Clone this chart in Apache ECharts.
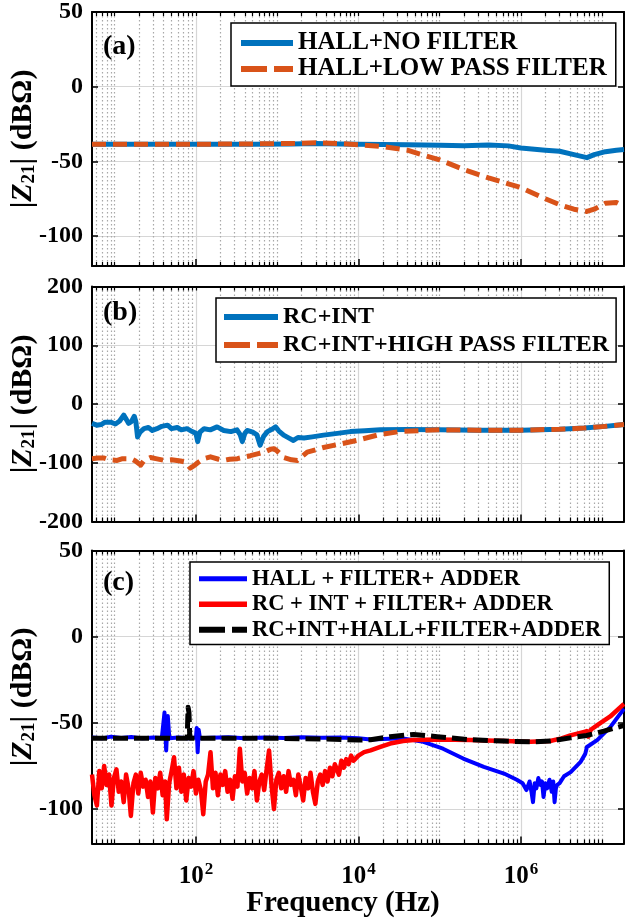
<!DOCTYPE html>
<html>
<head>
<meta charset="utf-8">
<script src="https://cdn.jsdelivr.net/npm/echarts@6/dist/echarts.min.js"></script>
<style>
html, body { margin: 0; padding: 0; background: #fff; }
#app { width: 625px; height: 920px; }
</style>
</head>
<body>
<div id="app"></div>
<script>
// x range of all three panels (Hz)
const xMin = 5.25, xMax = 1.86e7;
const xMajor = [1e2, 1e4, 1e6];

// (a) HALL
const aHz = [5.25, 20, 100, 500, 1500, 3000, 6000, 10000, 20000, 40000, 100000, 200000, 400000, 700000,
    1e6, 2e6, 3e6, 4.5e6, 6.5e6, 8e6, 1.1e7, 1.5e7, 1.86e7];
const aNoFilter = [-38.5, -38.5, -38.5, -38.5, -38.3, -38, -38.3, -38.5, -38.6, -38.8, -39.2, -39.5, -39, -39.6,
    -41, -42.5, -43.2, -45.5, -47.5, -45.5, -43.5, -42.5, -42];
const aLowPass = [-38.5, -38.5, -38.5, -38.3, -38, -37.5, -38, -38.8, -40, -42.5, -49, -55.5, -61, -65,
    -67.5, -75, -79, -82, -83.5, -82, -78, -77.5, -80];

// (b) RC + INT
const bIntHz = [5.25, 6.0, 6.8, 7.6, 8.9, 10.2, 11.5, 12.9, 14.0, 14.8, 16.0, 17.4, 18.2, 19.1, 20.5, 22.9, 26, 29,
    33.1, 38, 44.7, 50, 58.9, 66, 77.6, 90, 100, 105, 112, 126, 150, 182, 220, 269, 320, 350, 372, 400, 427, 500,
    560, 617, 680, 759, 860, 955, 1050, 1202, 1400, 1585, 1800, 2138, 2700, 3715, 5500, 7943, 12000, 18620,
    40000, 1e5, 3e5, 1e6, 3e6, 6e6, 1e7, 1.86e7];
const bInt = [-33, -36, -35, -31, -31, -34, -29, -19, -27, -33, -30, -21, -30, -56, -48, -42, -40, -45,
    -42, -38, -36, -42, -40, -44, -42, -47, -50, -64, -48, -42, -44, -39, -45, -47, -44, -52, -64, -50, -45, -48,
    -52, -70, -55, -47, -43, -39, -46, -53, -58, -62, -57, -58, -56, -53, -50, -47, -45.5, -44,
    -43.5, -44, -44.5, -44.5, -43, -41, -38.5, -35];
const bHpfHz = [5.25, 6.2, 7.4, 8.5, 10.7, 12.5, 15.8, 18, 20.9, 23, 27.5, 32, 40.7, 50, 64.6, 75, 85, 95, 105,
    125, 151, 190, 219, 260, 324, 400, 468, 570, 692, 830, 912, 1000, 1202, 1500, 1778, 2000, 2344, 3715, 6026,
    9550, 17000, 31600, 63000, 1e5, 3e5, 1e6, 3e6, 6e6, 1e7, 1.86e7];
const bHpf = [-93, -92, -92, -95, -96, -93, -93, -97, -104, -96, -91, -93, -96, -95, -97, -99, -109, -105, -100,
    -93, -90, -94, -96, -94, -93, -90, -88, -85, -82, -77, -76, -80, -91, -95, -96, -90, -82, -74, -68,
    -62, -53, -47, -45, -44, -44.5, -44.5, -43, -41, -38.5, -35];

// (c) with adder
const cHallHz = [5.25, 7, 9, 12, 16, 22, 30, 38, 41, 43, 45, 47, 60, 80, 100, 102, 105, 108, 112, 150, 250, 400,
    700, 1200, 2000, 3500, 6000, 1e4, 1.41e4, 3.5e4, 6.3e4, 1.1e5, 1.95e5, 3.5e5, 6.2e5, 8.9e5, 1.05e6, 1.17e6, 1.28e6,
    1.35e6, 1.41e6, 1.48e6, 1.55e6, 1.64e6, 1.74e6, 1.82e6, 1.9e6, 2.0e6, 2.1e6, 2.25e6, 2.4e6, 2.5e6, 2.6e6, 2.7e6,
    2.8e6, 3.0e6, 3.4e6, 4.1e6, 5.4e6, 6.2e6, 6.5e6, 8.7e6, 1.26e7, 1.86e7];
const cHall = [-58.5, -59, -58, -58.8, -58.2, -59, -58.5, -58.8, -44, -66, -46, -59, -58.5, -59, -58.5, -53, -67, -54,
    -59, -58.6, -58.3, -59, -58.5, -58.8, -58.4, -58.6, -58.5, -59, -59.6, -59, -61, -65, -70.7, -75.5, -79.4, -83,
    -85, -89, -84, -90, -96, -85, -88, -82, -86, -84, -93, -85, -88, -83, -90, -84, -96, -88,
    -86, -85, -81, -78.6, -72.8, -68, -64, -60, -52.5, -41.8];
const cRcHz = [5.25, 5.62, 6.03, 6.46, 6.92, 7.41, 7.94, 8.51, 9.12, 9.77, 10.5, 11.2, 12.0, 12.9, 13.8, 14.8, 15.8,
    17.0, 18.2, 19.5, 20.9, 22.4, 24.0, 25.7, 27.5, 29.5, 31.6, 33.9, 36.3, 38.9, 41.7,
    43.7, 46.8, 50.1, 53.7, 57.5, 61.7, 66.1, 70.8, 75.9, 81.3, 87.1, 93.3,
    100, 107, 115, 123, 132, 141, 151, 162, 174, 186, 200, 214, 229, 245, 263, 282, 302, 324, 347, 372,
    398, 427, 457, 490, 525, 562, 603, 646, 692, 741, 794, 851, 912, 977,
    1047, 1122, 1202, 1288, 1380, 1479, 1585, 1698, 1820, 1950, 2089, 2239, 2399, 2570, 2754, 2951, 3162, 3388,
    3631, 3890, 4169, 4467, 4786, 5129,
    5754, 6166, 6607, 7079, 7586, 8128, 8710, 10000, 11749, 14125, 18621, 24547, 35481, 47863, 93325, 239883,
    616595, 1318257, 2290868, 3162278, 4073803, 6025596, 6456542, 6760830, 7244360, 8912509, 12589254, 1.86e7];
const cRc = [-80, -92, -98, -78, -88, -75, -86, -80, -98, -82, -77, -90, -84, -96, -80, -88, -104,
    -85, -80, -91, -79, -87, -83, -93, -84, -102, -82, -88, -79, -92, -84,
    -106, -85, -78, -70, -88, -76, -90, -80, -95, -82, -87, -78,
    -91, -83, -89, -103, -84, -80, -67, -88, -79, -92, -80, -86, -78, -90, -83, -94, -81, -87, -65, -84,
    -79, -91, -82, -88, -78, -95, -84, -80, -89, -77, -66, -86, -100, -83,
    -79, -88, -81, -90, -78, -86, -83, -92, -80, -87, -95, -82, -88, -79, -90, -97, -84, -80,
    -86, -78, -84, -76, -81, -74,
    -80, -72, -76, -71, -74, -69, -72, -69, -67, -66, -64, -62, -60.5, -60, -59.6, -60,
    -60.5, -61, -60.5, -59, -57.3, -55.2, -54.8, -58, -54, -51, -46.3, -39];
const cAllHz = [5.25, 20, 70, 78, 80, 82, 84, 200, 1000, 5000, 1e4, 1.41e4, 2.45e4, 4.8e4, 9.3e4, 2.4e5, 6.2e5,
    1.32e6, 2.29e6, 4.07e6, 6.46e6, 1.05e7, 1.86e7];
const cAll = [-59, -59, -59, -59, -41, -44, -59, -59, -59, -59.5, -60, -59.8, -58, -56.7, -58, -59.8, -60.6,
    -61, -60.6, -58.7, -57.3, -54.8, -51.5];

// minor decade positions 2..9 x 10^n (grid only)
const xMinor = [];
for (let e = 0; e <= 7; e++) {
    for (let k = 1; k <= 9; k++) {
        const v = k * Math.pow(10, e);
        if (v >= xMin && v <= xMax && xMajor.indexOf(v) < 0) xMinor.push(v);
    }
}

const FONT = 'Liberation Serif';
const W = 'bold';

const panels = [
    {top: 12, height: 254, yMin: -120, yMax: 50, yTicks: [-100, -50, 0, 50], tag: '(a)', tagTop: 32,
        legend: {left: 231, top: 23, padding: [7, 9, 4, 7], itemWidth: 52, fontSize: 25, lineHeight: 26}},
    {top: 286.5, height: 235, yMin: -200, yMax: 200, yTicks: [-200, -100, 0, 100, 200], tag: '(b)', tagTop: 298,
        legend: {left: 216, top: 298, padding: [5, 7, 3, 5], itemWidth: 54, fontSize: 24, lineHeight: 28}},
    {top: 550.5, height: 293, yMin: -120, yMax: 50, yTicks: [-100, -50, 0, 50], tag: '(c)', tagTop: 568,
        legend: {left: 190, top: 562, padding: [4, 8, 2, 6], itemWidth: 48, fontSize: 22.5, lineHeight: 25.5}}
];

const seriesDefs = [
    [
        {name: 'HALL+NO FILTER', hz: aHz, val: aNoFilter, color: '#0072BD', width: 5},
        {name: 'HALL+LOW PASS FILTER', hz: aHz, val: aLowPass, color: '#D95319', width: 5, dash: [14, 7]}
    ],
    [
        {name: 'RC+INT', hz: bIntHz, val: bInt, color: '#0072BD', width: 5},
        {name: 'RC+INT+HIGH PASS FILTER', hz: bHpfHz, val: bHpf, color: '#D95319', width: 5, dash: [14, 7]}
    ],
    [
        {name: 'HALL + FILTER+ ADDER', hz: cHallHz, val: cHall, color: '#0000FF', width: 4},
        {name: 'RC + INT + FILTER+ ADDER', hz: cRcHz, val: cRc, color: '#FF0000', width: 4.5},
        {name: 'RC+INT+HALL+FILTER+ADDER', hz: cAllHz, val: cAll, color: '#000000', width: 5, dash: [15, 6]}
    ]
];

const grid = [], xAxis = [], yAxis = [], legend = [], title = [], series = [];
const border = {color: '#000', width: 2};

panels.forEach((p, i) => {
    const last = i === panels.length - 1;
    grid.push({left: 92, width: 532, top: p.top, height: p.height, containLabel: false, outerBoundsMode: 'none'});

    // bottom axis: decade ticks, labels, solid grid
    xAxis.push({
        type: 'log', gridIndex: i, min: xMin, max: xMax, position: 'bottom',
        axisLine: {show: true, onZero: false, lineStyle: border},
        axisTick: {show: true, inside: true, length: 7, customValues: xMajor, lineStyle: {color: '#000', width: 1.5}},
        axisLabel: {
            show: last, customValues: xMajor, margin: 18,
            formatter: v => '{b|10}{s|' + Math.round(Math.log10(v)) + '}',
            rich: {
                b: {fontFamily: FONT, fontWeight: W, fontSize: 25, color: '#000', lineHeight: 30},
                s: {fontFamily: FONT, fontWeight: W, fontSize: 17, color: '#000', lineHeight: 16, verticalAlign: 'top', padding: [0, 0, 0, 1]}
            }
        },
        splitLine: {show: true, lineStyle: {color: '#d6d6d6', width: 1.2}},
        name: last ? 'Frequency (Hz)' : '', nameLocation: 'middle', nameGap: 46, nameMoveOverlap: false,
        nameTextStyle: {fontFamily: FONT, fontWeight: W, fontSize: 29, color: '#000', padding: [0, 30, 0, 0]}
    });
    // bottom axis: minor ticks, dotted grid
    xAxis.push({
        type: 'log', gridIndex: i, min: xMin, max: xMax, position: 'bottom',
        axisLine: {show: false, onZero: false},
        axisTick: {show: true, inside: true, length: 4, customValues: xMinor, lineStyle: {color: '#000', width: 1.2}},
        axisLabel: {show: false},
        splitLine: {show: true, lineStyle: {color: '#a8a8a8', width: 1.2, type: [1.5, 2.5]}}
    });
    // top border
    xAxis.push({
        type: 'log', gridIndex: i, min: xMin, max: xMax, position: 'top',
        axisLine: {show: true, onZero: false, lineStyle: border},
        axisTick: {show: true, inside: true, length: 4, customValues: xMinor.concat(xMajor), lineStyle: {color: '#000', width: 1.2}},
        axisLabel: {show: false},
        splitLine: {show: false}
    });

    yAxis.push({
        type: 'value', gridIndex: i, min: p.yMin, max: p.yMax, position: 'left',
        axisLine: {show: true, onZero: false, lineStyle: border},
        axisTick: {show: true, inside: true, length: 6, customValues: p.yTicks, lineStyle: {color: '#000', width: 1.5}},
        axisLabel: {customValues: p.yTicks, margin: 9, fontFamily: FONT, fontWeight: W, fontSize: 24, color: '#000'},
        splitLine: {show: true, lineStyle: {color: '#d6d6d6', width: 1.2}},
        name: '{n||}{z|Z}{s|21}{n|| (dBΩ)}', nameLocation: 'middle', nameRotate: 90, nameGap: 53, nameMoveOverlap: false,
        nameTextStyle: {
            rich: {
                n: {fontFamily: FONT, fontWeight: W, fontSize: 30, color: '#000', lineHeight: 32},
                z: {fontFamily: FONT, fontWeight: W, fontStyle: 'italic', fontSize: 30, color: '#000', lineHeight: 32},
                s: {fontFamily: FONT, fontWeight: W, fontSize: 19, color: '#000', lineHeight: 19, verticalAlign: 'bottom'}
            }
        }
    });
    yAxis.push({
        type: 'value', gridIndex: i, min: p.yMin, max: p.yMax, position: 'right',
        axisLine: {show: true, onZero: false, lineStyle: border},
        axisTick: {show: true, inside: true, length: 6, customValues: p.yTicks, lineStyle: {color: '#000', width: 1.5}},
        axisLabel: {show: false},
        splitLine: {show: false}
    });

    title.push({
        text: p.tag, left: 103, top: p.tagTop, padding: 0,
        textStyle: {fontFamily: FONT, fontWeight: W, fontSize: 28, color: '#000', lineHeight: 30}
    });

    const L = p.legend;
    legend.push({
        orient: 'vertical', left: L.left, top: L.top, padding: L.padding, itemGap: 0,
        itemWidth: L.itemWidth, itemHeight: 14, selectedMode: false,
        backgroundColor: '#fff', borderColor: '#000', borderWidth: 1.5, borderRadius: 0,
        textStyle: {fontFamily: FONT, fontWeight: W, fontSize: L.fontSize, color: '#000', lineHeight: L.lineHeight},
        data: seriesDefs[i].map(s => ({
            name: s.name,
            // line sample only, no marker
            itemStyle: {color: 'rgba(0,0,0,0)', borderWidth: 0, opacity: 0},
            lineStyle: {color: s.color, width: s.width + 1, type: s.dash ? [26, 7] : 'solid'}
        }))
    });

    seriesDefs[i].forEach(s => {
        series.push({
            name: s.name, type: 'line', xAxisIndex: i * 3, yAxisIndex: i * 2,
            data: s.hz.map((f, k) => [f, s.val[k]]),
            symbol: 'none', showSymbol: false, animation: false,
            itemStyle: {color: s.color},
            lineStyle: {color: s.color, width: s.width, type: s.dash || 'solid', cap: 'butt', join: 'round'}
        });
    });
});

const myChart = echarts.init(document.querySelector('#app'), null, {renderer: 'canvas'});
myChart.setOption({
    backgroundColor: '#fff',
    animation: false,
    textStyle: {fontFamily: FONT},
    title, legend, grid, xAxis, yAxis, series
});
</script>
</body>
</html>
